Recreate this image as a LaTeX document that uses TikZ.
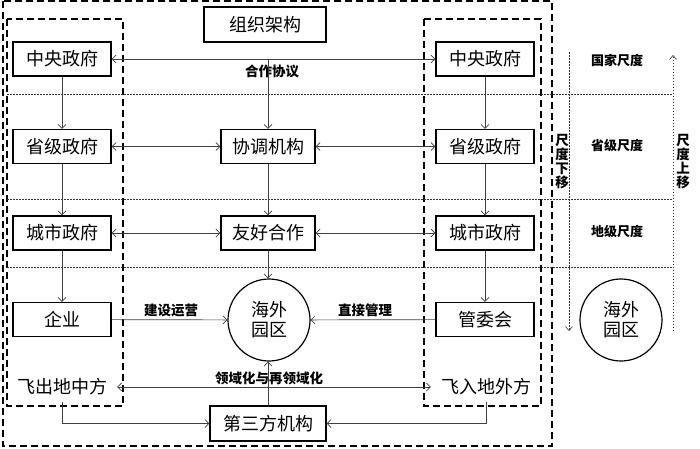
\documentclass[tikz,border=0pt]{standalone}
\usepackage{fontspec}
\newfontfamily\cjk{Noto Sans CJK SC}
\usetikzlibrary{arrows.meta}
\begin{document}
\begin{tikzpicture}[x=1pt,y=-1pt,
  box/.style={draw, line width=1.4pt, minimum width=98pt, minimum height=34pt, inner sep=0pt, font=\cjk\fontsize{18}{18}\selectfont},
  park/.style={draw, circle, line width=1.2pt, minimum size=82pt, inner sep=0pt, align=center, font=\cjk\fontsize{18}{20}\selectfont},
  ln/.style={draw=black!75, line width=0.7pt},
  tip/.tip={Straight Barb[length=4pt,width=8pt]},
  arr/.style={ln, -tip},
  darr/.style={ln, tip-tip},
  lab/.style={font=\cjk\bfseries\fontsize{13.5}{14}\selectfont, inner sep=0pt},
  slab/.style={font=\cjk\bfseries\fontsize{13}{14}\selectfont, inner sep=0pt},
  side/.style={font=\cjk\fontsize{18}{18}\selectfont, inner xsep=10pt, inner ysep=6pt},
  vlab/.style={font=\cjk\bfseries\fontsize{13.5}{14}\selectfont, align=center, inner sep=0pt},
  dbox/.style={draw, line width=1.8pt, dash pattern=on 7pt off 4pt},
  dots/.style={draw=black!80, line width=0.6pt, dash pattern=on 1.5pt off 1.5pt}
]
\useasboundingbox (0,0) rectangle (700,448);
% dashed frames
\draw[dbox] (3,1) rectangle (552,446);
\draw[dbox] (7,19) rectangle (123,406);
\draw[dbox] (424,19) rectangle (541,406);
% dotted scale lines
\draw[dots] (7,94) -- (673,94);
\draw[dots] (7,199) -- (673,199);
\draw[dots] (7,267) -- (673,267);
\coordinate (dtop) at (569,52);
\coordinate (dbot) at (569,331);
\coordinate (utop) at (673,55);
\coordinate (ubot) at (673,331);
\draw[dots, -{Straight Barb[length=4pt,width=7pt]}] (dtop) -- (dbot);
\draw[dots, -{Straight Barb[length=4pt,width=7pt]}] (ubot) -- (utop);
% nodes
\node[box, minimum width=122pt, minimum height=35pt] (org) at (265,24.5) {组织架构};
\node[box] (cL) at (62,59) {中央政府};
\node[box] (cR) at (485,59) {中央政府};
\node[box] (pL) at (62,146.5) {省级政府};
\node[box, minimum width=94pt] (co) at (268,146.5) {协调机构};
\node[box] (pR) at (485,146.5) {省级政府};
\node[box] (sL) at (62,233) {城市政府};
\node[box, minimum width=94pt] (fr) at (268,233) {友好合作};
\node[box] (sR) at (485,233) {城市政府};
\node[box] (en) at (62,319.5) {企业};
\node[box] (gw) at (485,319.5) {管委会};
\node[park] (pk) at (269,320) {海外\\园区};
\node[park] (pk2) at (621,320) {海外\\园区};
\node[box, minimum width=116pt, minimum height=35pt] (th) at (268,423.5) {第三方机构};
\node[side] (fo) at (62,387) {飞出地中方};
\node[side] (fi) at (486,387) {飞入地外方};
% labels
\node[lab] (l1) at (272,71) {合作协议};
\node[lab] (l2) at (171,310) {建设运营};
\node[lab] (l3) at (365,310) {直接管理};
\node[lab] (l4) at (269,378) {领域化与再领域化};
\node[slab] (s1) at (617,61) {国家尺度};
\node[slab] (s2) at (617,146) {省级尺度};
\node[slab] (s3) at (617,232) {地级尺度};
\node[vlab] (v1) at (562,162) {尺\\度\\下\\移};
\node[vlab] (v2) at (683,162) {尺\\度\\上\\移};
% connectors
\draw[darr] (cL.east) -- (cR.west);
\coordinate (j) at (co.north |- cL.east);
\draw[arr] (j) -- (co.north);
\draw[darr] (pL) -- (co);
\draw[darr] (co) -- (pR);
\draw[arr] (co) -- (fr);
\draw[darr] (sL) -- (fr);
\draw[darr] (fr) -- (sR);
\draw[arr] (fr.south) -- (pk.north -| fr.south);
\draw[arr] (en) -- (pk);
\draw[arr] (gw) -- (pk);
\draw[arr] (th.north) -- (pk.south -| th.north);
\draw[arr] (cL) -- (pL);
\draw[arr] (pL) -- (sL);
\draw[arr] (sL) -- (en);
\draw[arr] (cR) -- (pR);
\draw[arr] (pR) -- (sR);
\draw[arr] (sR) -- (gw);
\draw[darr] (fo.east) -- (fi.west);
\draw[arr] (fo.south) |- (th.west);
\draw[arr] (fi.south) |- (th.east);
\end{tikzpicture}
\end{document}
